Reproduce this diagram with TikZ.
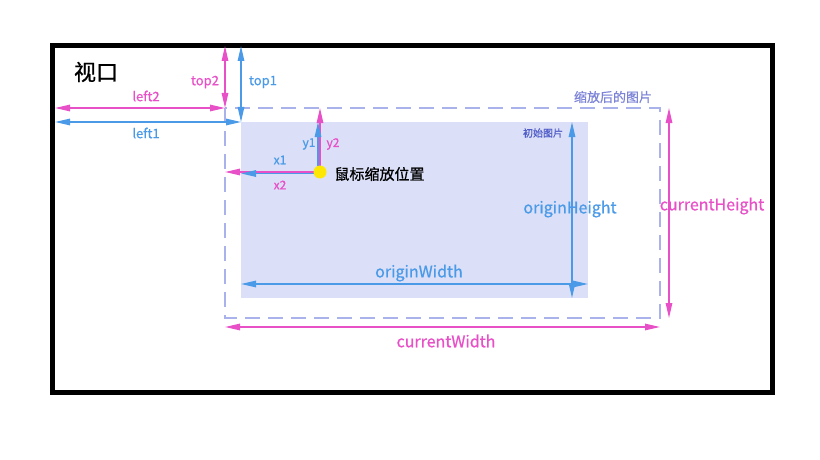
\documentclass[tikz,border=0pt]{standalone}
\usepackage{fontspec}
\setmainfont{Noto Sans CJK SC}[RawFeature={embolden=0.8}]
\usetikzlibrary{arrows.meta}
\definecolor{lineblue}{RGB}{74,154,232}
\definecolor{linepink}{RGB}{232,80,200}
\definecolor{dashblue}{RGB}{170,178,236}
\definecolor{fillblue}{RGB}{219,224,248}
\definecolor{txtpurple}{RGB}{125,132,215}
\definecolor{txtdeep}{RGB}{80,92,200}
\tikzset{
    bluearrow/.style={
        line width=1.3pt,
        lineblue,
        >={Triangle[length=15pt, width=6.5pt]}
    },
    % 粉色箭头
    pinkarrow/.style={
        line width=1.3pt,
        linepink,
        >={Triangle[length=15pt, width=6.5pt]}
    },
    bluelabel/.style={lineblue, inner sep=1pt, font=\fontsize{13}{13}\selectfont},
    pinklabel/.style={linepink, inner sep=1pt, font=\fontsize{13}{13}\selectfont}
}

\begin{document}
\begin{tikzpicture}[x=1pt, y=-1pt]
   \useasboundingbox (0,0) rectangle (820,460);
   \path
    (52,46)   coordinate (v1)
    (772,392) coordinate (v2)
    (225,108) coordinate (c1)
    (660,318) coordinate (c2)
    (241,122) coordinate (o1)
    (588,298) coordinate (o2)
    (320,172) coordinate (m)
    ;

   % 视口
   \draw[line width=5pt] (v1) rectangle (v2);
   \node[font=\fontsize{22}{22}\selectfont] (vp) at (96,72) {视口};

   % 初始图片 / 缩放后的图片
   \fill[fillblue] (o1) rectangle (o2);
   \draw[dashblue, line width=1.5pt, dash pattern=on 15pt off 8pt] (c1) rectangle (c2);
   \node[txtpurple, font=\fontsize{13}{13}\selectfont] (cimg) at (613,97) {缩放后的图片};
   \node[txtdeep, font=\fontsize{10}{10}\selectfont] (oimg) at (543,133) {初始图片};

   % top / left
   \draw[pinkarrow,<->] (c1 |- v1) -- (c1);
   \draw[bluearrow,<->] (o1 |- v1) -- (o1);
   \draw[pinkarrow,<->] (v1 |- c1) ++(3,0) -- (c1);
   \draw[bluearrow,<->] (v1 |- o1) ++(3,0) -- (o1);
   \node[pinklabel] (top2) at (205,82) {top2};
   \node[bluelabel] (top1) at (263,82) {top1};
   \node[pinklabel] (left2) at (146,96) {left2};
   \node[bluelabel] (left1) at (146,133) {left1};

   % 鼠标位置
   \draw[pinkarrow,->] (m) -- (m -| c1);
   \draw[bluearrow,->] ([yshift=-1.5]m) -- ([yshift=-1.5]m -| o1);
   \draw[pinkarrow,->] (m) -- (m |- c1);
   \draw[bluearrow,->] ([xshift=-2]m) -- ([xshift=-2]m |- o1);
   \fill[yellow!90!orange] (m) circle (6.5);
   \node[bluelabel, font=\fontsize{12}{12}\selectfont] (x1) at (280,160) {x1};
   \node[pinklabel, font=\fontsize{12}{12}\selectfont] (x2) at (280,185) {x2};
   \node[bluelabel, font=\fontsize{12}{12}\selectfont] (y1) at (309,144) {y1};
   \node[pinklabel, font=\fontsize{12}{12}\selectfont] (y2) at (333,144) {y2};
   \node[font=\fontsize{15}{15}\selectfont, anchor=west] (mpos) at (331,174) {鼠标缩放位置};

   % 宽高
   \draw[bluearrow,<->] (572,122) -- (572,298);
   \draw[bluearrow,<->] (241,284) -- (588,284);
   \draw[pinkarrow,<->] (669,108) -- (669,318);
   \draw[pinkarrow,<->] (225,327) -- (660,327);
   \node[bluelabel, font=\fontsize{16}{16}\selectfont] (oh) at (570,209) {originHeight};
   \node[bluelabel, font=\fontsize{16}{16}\selectfont] (ow) at (419,273) {originWidth};
   \node[pinklabel, font=\fontsize{16}{16}\selectfont] (ch) at (712,206) {currentHeight};
   \node[pinklabel, font=\fontsize{16}{16}\selectfont] (cw) at (446,341) {currentWidth};

\end{tikzpicture}
\end{document}
